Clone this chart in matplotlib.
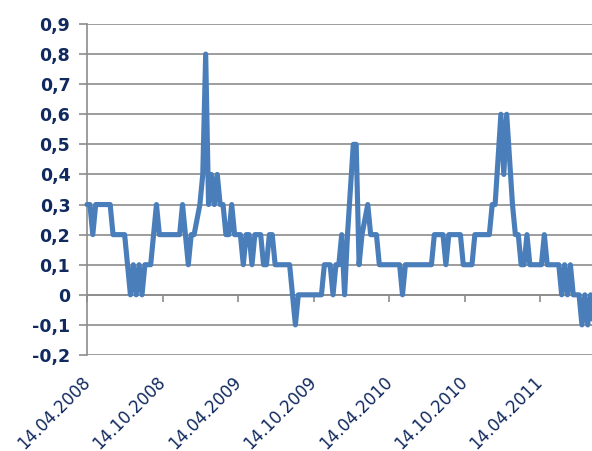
import matplotlib
matplotlib.use("Agg")
import matplotlib.pyplot as plt
import matplotlib.transforms as mtransforms
from matplotlib.ticker import FuncFormatter, MultipleLocator
import pandas as pd

# weekly readings starting 14.04.2008
start_date = "2008-04-14"
values = [
    0.3, 0.3, 0.2, 0.3, 0.3, 0.3, 0.3, 0.3, 0.3, 0.2,
    0.2, 0.2, 0.2, 0.2, 0.1, 0.0, 0.1, 0.0, 0.1, 0.0,
    0.1, 0.1, 0.1, 0.2, 0.3, 0.2, 0.2, 0.2, 0.2, 0.2,
    0.2, 0.2, 0.2, 0.3, 0.2, 0.1, 0.2, 0.2, 0.25, 0.3,
    0.4, 0.8, 0.3, 0.4, 0.3, 0.4, 0.3, 0.3, 0.2, 0.2,
    0.3, 0.2, 0.2, 0.2, 0.1, 0.2, 0.2, 0.1, 0.2, 0.2,
    0.2, 0.1, 0.1, 0.2, 0.2, 0.1, 0.1, 0.1, 0.1, 0.1,
    0.1, 0.0, -0.1, 0.0, 0.0, 0.0, 0.0, 0.0, 0.0, 0.0,
    0.0, 0.0, 0.1, 0.1, 0.1, 0.0, 0.1, 0.1, 0.2, 0.0,
    0.2, 0.35, 0.5, 0.5, 0.1, 0.2, 0.25, 0.3, 0.2, 0.2,
    0.2, 0.1, 0.1, 0.1, 0.1, 0.1, 0.1, 0.1, 0.1, 0.0,
    0.1, 0.1, 0.1, 0.1, 0.1, 0.1, 0.1, 0.1, 0.1, 0.1,
    0.2, 0.2, 0.2, 0.2, 0.1, 0.2, 0.2, 0.2, 0.2, 0.2,
    0.1, 0.1, 0.1, 0.1, 0.2, 0.2, 0.2, 0.2, 0.2, 0.2,
    0.3, 0.3, 0.45, 0.6, 0.4, 0.6, 0.45, 0.3, 0.2, 0.2,
    0.1, 0.1, 0.2, 0.1, 0.1, 0.1, 0.1, 0.1, 0.2, 0.1,
    0.1, 0.1, 0.1, 0.1, 0.0, 0.1, 0.0, 0.1, 0.0, 0.0,
    0.0, -0.1, 0.0, -0.1, 0.0, -0.1,
]
tick_labels = ["14.04.2008", "14.10.2008", "14.04.2009", "14.10.2009",
               "14.04.2010", "14.10.2010", "14.04.2011"]

navy = "#10295e"
line_blue = "#4a7ebb"
grid_gray = "#8c8c8c"

dates = pd.date_range(start=start_date, periods=len(values), freq="7D")
tick_dates = pd.to_datetime(tick_labels, format="%d.%m.%Y")

fig = plt.figure(figsize=(5.92, 4.51), dpi=100)
# plot area runs past the right edge of the figure
ax = fig.add_axes([87 / 592, 96 / 451, 521 / 592, 331 / 451])

ax.plot(dates, values, color=line_blue, linewidth=3.7, solid_joinstyle="round",
        solid_capstyle="round", zorder=3, clip_on=False)

ax.set_ylim(-0.2, 0.9)
ax.set_xlim(pd.Timestamp(start_date), pd.Timestamp(start_date) + pd.Timedelta(days=1260))

ax.yaxis.set_major_locator(MultipleLocator(0.1))
ax.yaxis.set_major_formatter(FuncFormatter(
    lambda v, pos: "0" if abs(v) < 1e-9 else f"{v:.1f}".replace(".", ",")))
ax.yaxis.grid(True, color=grid_gray, linewidth=1.2, zorder=1)
ax.set_axisbelow(True)
ax.tick_params(axis="y", length=6, width=1.2, color=grid_gray, pad=6,
               labelsize=12.5, labelcolor=navy)
for lbl in ax.get_yticklabels():
    lbl.set_fontweight("bold")

for side in ["top", "right"]:
    ax.spines[side].set_visible(False)
ax.spines["left"].set_color(grid_gray)
ax.spines["left"].set_linewidth(1.2)
# category axis crosses at zero
ax.spines["bottom"].set_position(("data", 0))
ax.spines["bottom"].set_color(grid_gray)
ax.spines["bottom"].set_linewidth(1.2)

ax.set_xticks(tick_dates)
ax.tick_params(axis="x", direction="out", length=5, width=1.2, color=grid_gray,
               labelbottom=False)

# date labels sit under the plot area
sec = ax.secondary_xaxis(0.0)
sec.set_xticks(tick_dates)
sec.set_xticklabels(tick_labels, rotation=45, ha="right", va="top",
                    rotation_mode="anchor", color=navy, fontsize=12)
sec.tick_params(length=0, pad=10)
sec.spines["bottom"].set_visible(False)
shift = mtransforms.ScaledTranslation(-0.06, -0.04, fig.dpi_scale_trans)
for lbl in sec.get_xticklabels():
    lbl.set_transform(lbl.get_transform() + shift)

fig.savefig("out.png", dpi=100)
